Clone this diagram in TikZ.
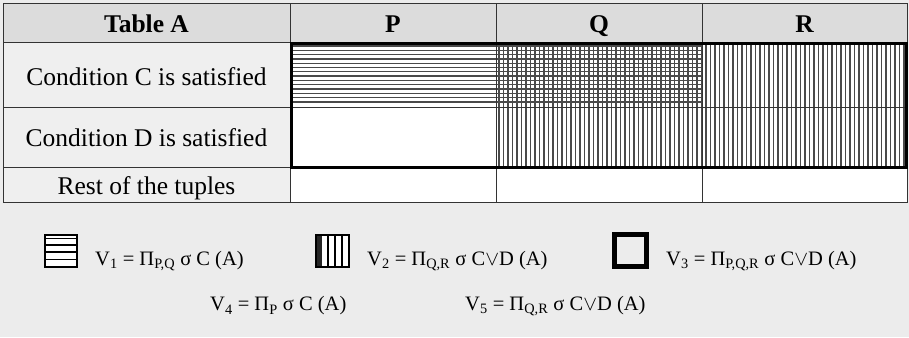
\documentclass[tikz,border=0pt]{standalone}
\usepackage{fontspec}
\setmainfont{Liberation Serif}
\usepackage{tikz}
\usetikzlibrary{positioning}
\definecolor{bgray}{HTML}{ECECEC}
\definecolor{hgray}{HTML}{DCDCDC}
\definecolor{lgray}{HTML}{EFEFEF}
\definecolor{hatchgray}{HTML}{4A4A4A}
\newcommand{\lowr}[1]{\textsubscript{#1}}

\begin{document}
\begin{tikzpicture}[x=1pt, y=-1pt,
        cell/.style={draw=black!80, line width=1pt},
        hatch/.style={hatchgray, line width=1.3pt},
        headtxt/.style={font=\fontsize{25.5}{28}\selectfont\bfseries, anchor=base},
        rowtxt/.style={font=\fontsize{25.5}{28}\selectfont, anchor=base},
        legtxt/.style={font=\fontsize{20.5}{24}\selectfont, anchor=west, inner sep=0pt}]
                \useasboundingbox (0,0) rectangle (909,337);
                \fill[bgray] (0,0) rectangle (909,337);
                \fill[hgray] (3,4) rectangle (907,43);
                \fill[lgray] (3,43) rectangle (290,202);
                \fill[white] (290,43) rectangle (907,202);
                \foreach \y in {46,50.3,...,106} \draw[hatch] (290,\y) -- (702,\y);
                \foreach \x in {499,503.5,...,905} \draw[hatch] (\x,43) -- (\x,167);
                \foreach \x in {290,496,702} \draw[cell] (\x,4) -- (\x,202);
                \foreach \y in {43,107,167} \draw[cell] (3,\y) -- (907,\y);
                \draw[cell] (3,4) rectangle (907,202);
                \draw[line width=3pt] (291,44) rectangle (906,167);
                \node[headtxt] (tabA) at (146.5,32.5) {Table A};
                \node[headtxt] (colP) at (393,32.5) {P};
                \node[headtxt] (colQ) at (599,32.5) {Q};
                \node[headtxt] (colR) at (804.5,32.5) {R};
                \node[rowtxt] (rowC) at (146.5,85) {Condition C is satisfied};
                \node[rowtxt] (rowD) at (146.5,146) {Condition D is satisfied};
                \node[rowtxt] (rowRest) at (146.5,194) {Rest of the tuples};
                \fill[white] (45,235) rectangle (77,267);
                \foreach \y in {238.5,245,252,259.5} \draw[line width=1.3pt] (45,\y) -- (77,\y);
                \draw[line width=2pt] (45,235) rectangle (77,267);
                \fill[white] (316,235) rectangle (349,267);
                \fill[black!85] (316,235) rectangle (322,267);
                \foreach \x in {328,335,342} \draw[line width=1.3pt] (\x,235) -- (\x,267);
                \draw[line width=2pt] (316,235) rectangle (349,267);
                \draw[line width=5pt] (614.5,234.5) rectangle (646.5,266.5);
                \node[legtxt] (vOne) at (95,261) {V\lowr{1} = Π\lowr{P,Q} σ C (A)};
                \node[legtxt] (vTwo) at (367,261) {V\lowr{2} = Π\lowr{Q,R} σ C$\vee$D (A)};
                \node[legtxt] (vThree) at (666,261) {V\lowr{3} = Π\lowr{P,Q,R} σ C$\vee$D (A)};
                \node[legtxt] (vFour) at (210,306) {V\lowr{4} = Π\lowr{P} σ C (A)};
                \node[legtxt] (vFive) at (465,306) {V\lowr{5} = Π\lowr{Q,R} σ C$\vee$D (A)};
            \end{tikzpicture}
\end{document}
